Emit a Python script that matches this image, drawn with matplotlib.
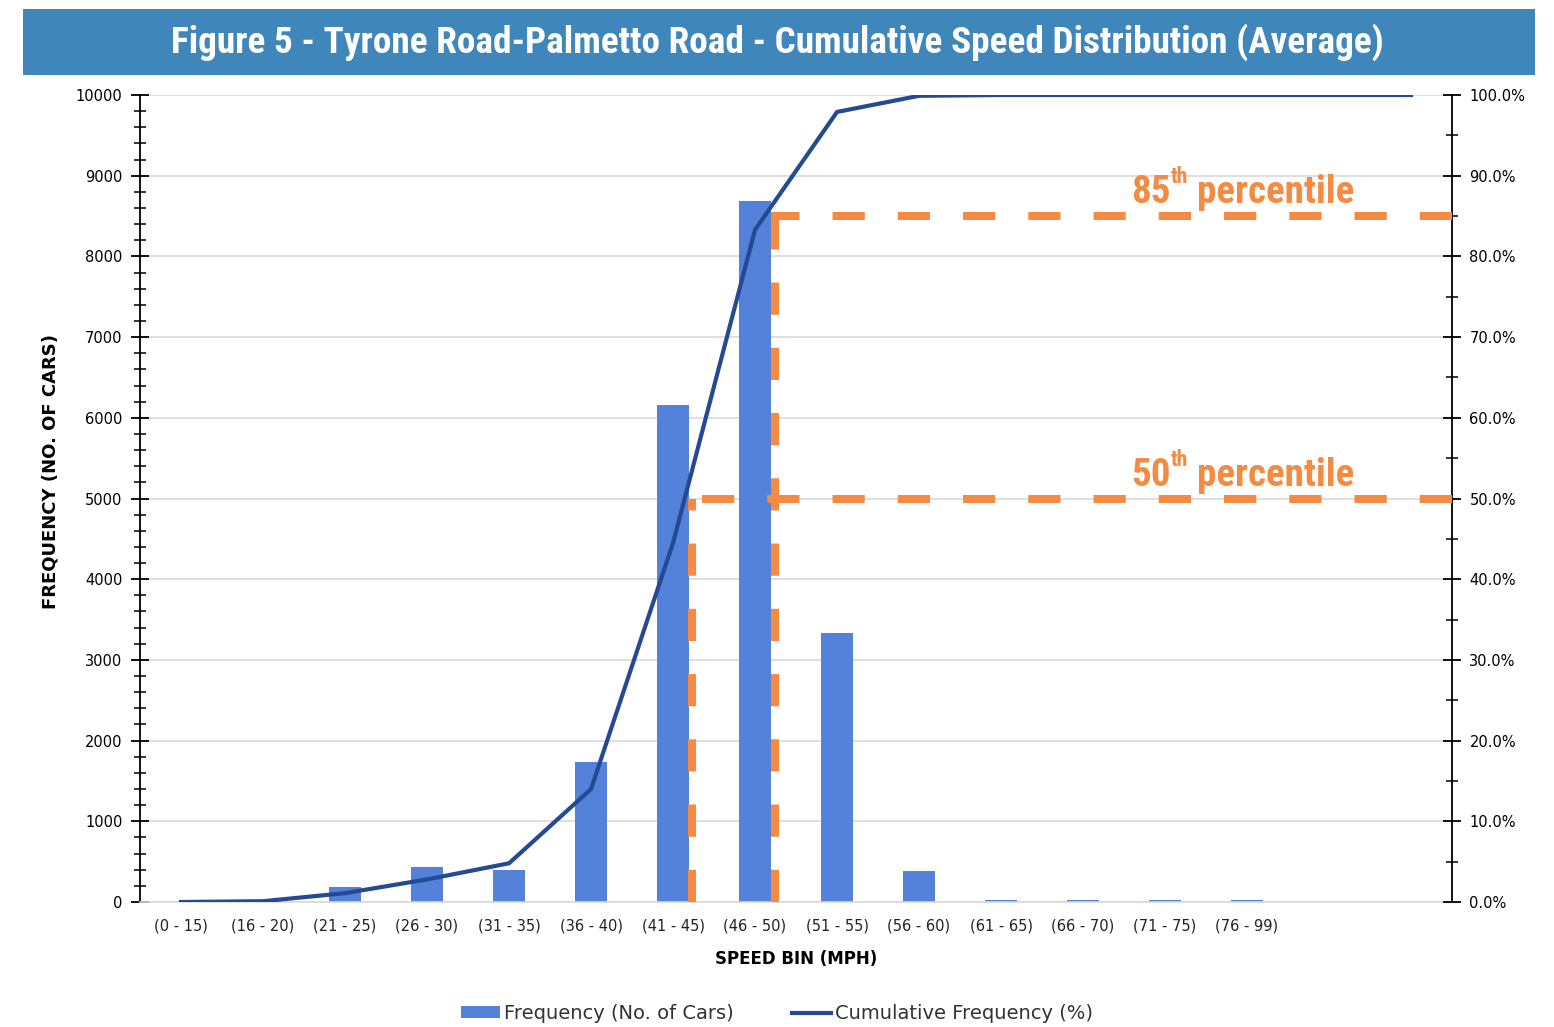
import matplotlib

matplotlib.use("Agg")
import matplotlib.pyplot as plt
from matplotlib import font_manager
from matplotlib.patches import Rectangle
from matplotlib.ticker import MultipleLocator, FuncFormatter

matplotlib.rcParams["font.family"] = ["DejaVu Sans"]

# Daten
speed_bins = [
    "(0 - 15)", "(16 - 20)", "(21 - 25)", "(26 - 30)", "(31 - 35)", "(36 - 40)",
    "(41 - 45)", "(46 - 50)", "(51 - 55)", "(56 - 60)", "(61 - 65)", "(66 - 70)",
    "(71 - 75)", "(76 - 99)", "", "",
]
frequency = [0, 0, 190, 430, 400, 1730, 6160, 8690, 3330, 390, 20, 20, 20, 20, 0, 0]
cumulative_pct = [0, 0.1, 1.1, 2.8, 4.8, 14.0, 44.5, 83.3, 97.9, 99.9,
                  100, 100, 100, 100, 100, 100]

pct_levels = [50, 85]
pct_positions = [6.23, 7.24]
pct_labels = ["50", "85"]

BAR_COLOR = "#5482DA"
LINE_COLOR = "#234A92"
ORANGE = "#F58A42"
BANNER = "#3F87BB"


def pick_condensed_font():
    """Sucht eine schmale Schrift, sonst DejaVu Sans."""
    entries = font_manager.fontManager.ttflist
    names = {f.name for f in entries}
    for cand in ["Liberation Sans Narrow", "Roboto Condensed", "Open Sans Condensed",
                 "Noto Sans Condensed", "DejaVu Sans Condensed"]:
        if cand in names:
            return {"family": [cand, "DejaVu Sans"]}
    for f in entries:
        if f.name in ("DejaVu Sans", "Noto Sans", "Open Sans", "Roboto") and \
                str(f.stretch) in ("condensed", "semi-condensed", "extra-condensed", "500", "300"):
            return {"family": [f.name, "DejaVu Sans"], "stretch": "condensed"}
    return {"family": ["DejaVu Sans"]}


COND = pick_condensed_font()


def fit_width(text_artist, renderer, target_px):
    """Passt die Schriftgroesse an die Breite im Original an."""
    bb = text_artist.get_window_extent(renderer)
    text_artist.set_fontsize(text_artist.get_fontsize() * target_px / bb.width)


fig = plt.figure(figsize=(15.54, 10.27), dpi=100)
renderer = fig.canvas.get_renderer()

# Titelbalken
fig.patches.append(Rectangle((0.0148, 0.927), 0.973, 0.0643, transform=fig.transFigure,
                             facecolor=BANNER, edgecolor="none"))
title = fig.text(0.5, 0.959, "Figure 5 - Tyrone Road-Palmetto Road - Cumulative Speed Distribution (Average)",
                 ha="center", va="center", color="white", fontsize=28, weight="bold", **COND)
fit_width(title, renderer, 1215)

ax = fig.add_axes([0.0901, 0.1217, 0.8443, 0.7858])
x = list(range(len(speed_bins)))
ax.bar(x, frequency, width=0.39, color=BAR_COLOR, label="Frequency (No. of Cars)", zorder=2)
ax.set_xlim(-0.5, len(speed_bins) - 0.5)
ax.set_ylim(0, 10000)
ax.set_xticks(x)
ax.set_xticklabels(speed_bins, fontsize=10.5, color="#222222")
ax.tick_params(axis="x", length=0, pad=12)
ax.yaxis.set_major_locator(MultipleLocator(1000))
ax.yaxis.set_minor_locator(MultipleLocator(200))
ax.tick_params(axis="y", which="major", direction="inout", length=13, width=1.3, labelsize=10.5, pad=6)
ax.tick_params(axis="y", which="minor", direction="inout", length=9, width=1.1)
ax.grid(axis="y", color="#d9d9d9", linewidth=1.2, zorder=0)
ax.set_axisbelow(True)
ax.spines["top"].set_visible(False)
ax.spines["right"].set_visible(False)
ax.spines["bottom"].set_color("#d9d9d9")
ax.spines["bottom"].set_linewidth(1.2)
ax.spines["left"].set_linewidth(1.3)
ax.set_ylabel("FREQUENCY (NO. OF CARS)", fontsize=13, weight="bold")
ax.yaxis.set_label_coords(-0.061, 0.533)
ax.set_xlabel("SPEED BIN (MPH)", fontsize=12, weight="bold", labelpad=12)

ax2 = ax.twinx()
ax2.set_ylim(0, 100)
ax2.plot(x, cumulative_pct, color=LINE_COLOR, linewidth=3, label="Cumulative Frequency (%)", zorder=3)
ax2.yaxis.set_major_locator(MultipleLocator(10))
ax2.yaxis.set_minor_locator(MultipleLocator(5))
ax2.yaxis.set_major_formatter(FuncFormatter(lambda v, _: f"{v:.1f}%"))
ax2.tick_params(axis="y", which="major", direction="inout", length=13, width=1.3, labelsize=10.5, pad=6)
ax2.tick_params(axis="y", which="minor", direction="inout", length=9, width=1.1)
for side in ["top", "left", "bottom"]:
    ax2.spines[side].set_visible(False)
ax2.spines["right"].set_linewidth(1.3)

# Perzentil-Linien
for level, xpos, lab in zip(pct_levels, pct_positions, pct_labels):
    ax2.plot([xpos, xpos], [0, level], color=ORANGE, linewidth=5.8, dashes=(4, 4.1),
             dash_capstyle="butt", zorder=4, clip_on=False)
    ax2.plot([len(speed_bins) - 0.5, xpos - 0.04], [level, level], color=ORANGE, linewidth=5.8,
             dashes=(4, 4.1), dash_capstyle="butt", zorder=4, clip_on=False)
    t_num = ax2.text(11.59, level + 1.6, lab, color=ORANGE, fontsize=27, weight="bold",
                     ha="left", va="baseline", zorder=5, **COND)
    t_th = ax2.annotate("th", xy=(1.0, 0.62), xycoords=t_num, color=ORANGE, fontsize=15,
                        weight="bold", ha="left", va="bottom", zorder=5, **COND)
    t_rest = ax2.annotate(" percentile", xy=(1.0, 0.0), xycoords=(t_th, t_num), color=ORANGE,
                          fontsize=27, weight="bold", ha="left", va="bottom", zorder=5, **COND)
    # Gesamtbreite im Original etwa 223 px
    w = sum(t.get_window_extent(renderer).width for t in (t_num, t_th, t_rest))
    scale = 223 / w
    for t in (t_num, t_th, t_rest):
        t.set_fontsize(t.get_fontsize() * scale)

h1, l1 = ax.get_legend_handles_labels()
h2, l2 = ax2.get_legend_handles_labels()
fig.legend(h1 + h2, l1 + l2, loc="center", bbox_to_anchor=(0.5, 0.013), ncol=2, frameon=False,
           fontsize=14, handlelength=2.0, handleheight=0.6, columnspacing=3.0, handletextpad=0.2,
           labelcolor="#333333")

fig.savefig("out.png", dpi=100)
